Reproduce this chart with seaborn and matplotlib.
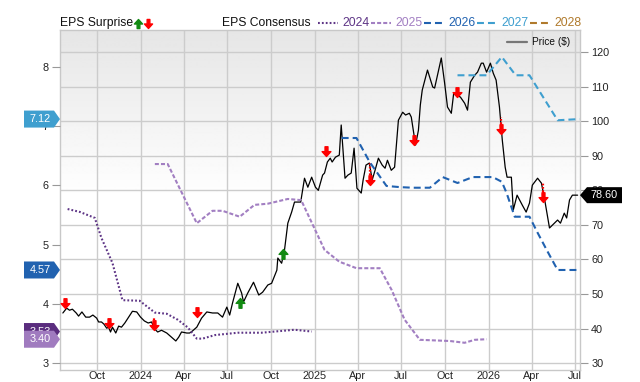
import numpy as np
import pandas as pd
import matplotlib
matplotlib.use("Agg")
from matplotlib import pyplot as plt
from matplotlib.lines import Line2D
from matplotlib.patches import Polygon
from matplotlib.path import Path
from matplotlib.transforms import IdentityTransform
import seaborn as sns

# ---- data ----
price_dates = [
    "2023-07-22", "2023-07-30", "2023-08-05", "2023-08-11", "2023-08-19", "2023-08-24", "2023-08-31",
    "2023-09-08", "2023-09-16", "2023-09-23", "2023-10-01", "2023-10-05", "2023-10-11", "2023-10-16",
    "2023-10-22", "2023-10-26", "2023-10-30", "2023-11-03", "2023-11-10", "2023-11-16", "2023-11-22",
    "2023-11-29", "2023-12-07", "2023-12-15", "2023-12-24", "2024-01-01", "2024-01-09", "2024-01-17",
    "2024-01-24", "2024-01-31", "2024-02-06", "2024-02-14", "2024-02-25", "2024-03-06", "2024-03-15",
    "2024-03-21", "2024-03-27", "2024-04-07", "2024-04-13", "2024-04-19", "2024-04-28", "2024-05-08",
    "2024-05-19", "2024-05-31", "2024-06-11", "2024-06-21", "2024-06-30", "2024-07-06", "2024-07-12",
    "2024-07-23", "2024-07-31", "2024-08-04", "2024-08-13", "2024-08-25", "2024-09-05", "2024-09-13",
    "2024-09-24", "2024-10-02", "2024-10-13", "2024-10-15", "2024-10-23", "2024-10-29", "2024-11-05",
    "2024-11-13", "2024-11-19", "2024-12-02", "2024-12-10", "2024-12-17", "2024-12-25", "2025-01-02",
    "2025-01-08", "2025-01-17", "2025-01-21", "2025-01-27", "2025-02-02", "2025-02-06", "2025-02-13",
    "2025-02-21", "2025-02-25", "2025-03-05", "2025-03-11", "2025-03-18", "2025-03-24", "2025-03-30",
    "2025-04-08", "2025-04-12", "2025-04-18", "2025-04-25", "2025-05-01", "2025-05-07", "2025-05-14",
    "2025-05-22", "2025-05-28", "2025-06-02", "2025-06-10", "2025-06-17", "2025-06-21", "2025-06-25",
    "2025-07-04", "2025-07-10", "2025-07-18", "2025-07-22", "2025-07-31", "2025-08-06", "2025-08-10",
    "2025-08-14", "2025-08-25", "2025-09-05", "2025-09-09", "2025-09-23", "2025-09-30", "2025-10-06",
    "2025-10-14", "2025-10-19", "2025-10-25", "2025-11-02", "2025-11-11", "2025-11-17", "2025-11-23",
    "2025-12-02", "2025-12-08", "2025-12-16", "2025-12-20", "2025-12-27", "2026-01-04", "2026-01-10",
    "2026-01-16", "2026-01-23", "2026-01-29", "2026-02-04", "2026-02-08", "2026-02-17", "2026-02-21",
    "2026-03-01", "2026-03-12", "2026-03-20", "2026-03-27", "2026-04-02", "2026-04-13", "2026-04-21",
    "2026-04-27", "2026-05-08", "2026-05-14", "2026-05-25", "2026-05-31", "2026-06-08", "2026-06-13",
    "2026-06-19", "2026-06-25", "2026-07-06",
]
price_values = [
    44.5, 45.9, 45.3, 45.6, 44.5, 43.6, 44.8,
    43.3, 43.3, 43.9, 43.0, 41.9, 41.9, 41.3,
    40.1, 40.4, 39.0, 40.4, 38.7, 40.7, 40.4,
    41.6, 43.3, 45.0, 44.8, 43.3, 42.2, 41.6,
    41.9, 39.8, 39.0, 39.5, 38.7, 37.5, 36.4,
    37.5, 39.0, 38.7, 38.7, 39.3, 40.4, 43.0,
    44.8, 44.5, 44.5, 43.3, 46.2, 43.9, 47.4,
    53.1, 50.3, 47.7, 50.3, 53.4, 49.7, 50.5,
    52.6, 53.1, 56.9, 60.4, 58.9, 62.7, 70.5,
    73.7, 76.6, 76.6, 83.5, 80.9, 83.8, 80.9,
    80.0, 84.4, 85.0, 88.2, 89.3, 88.2, 89.6,
    90.2, 98.9, 83.5, 84.4, 85.0, 92.2, 80.6,
    79.2, 83.0, 87.3, 87.9, 83.0, 85.8, 89.3,
    87.3, 86.4, 88.7, 85.8, 86.7, 93.7, 100.3,
    102.6, 101.8, 102.3, 101.2, 93.1, 97.4, 104.7,
    109.0, 114.8, 109.9, 109.6, 118.3, 111.0, 104.1,
    102.3, 108.1, 107.5, 107.0, 105.2, 103.2, 111.3,
    113.3, 114.2, 116.8, 116.8, 114.2, 116.8, 113.9,
    111.9, 104.1, 94.5, 86.7, 83.8, 83.8, 74.3,
    78.6, 75.7, 73.7, 76.3, 81.5, 83.5, 82.1,
    78.0, 69.1, 69.9, 71.4, 70.5, 73.4, 72.0,
    77.2, 78.6, 78.6,
]

eps_2024_dates = ["2023-08-01", "2023-08-27", "2023-09-27", "2023-10-11", "2023-11-03", "2023-11-24",
                  "2023-12-30", "2024-01-31", "2024-02-25", "2024-03-19", "2024-04-09", "2024-04-28",
                  "2024-05-10", "2024-06-05", "2024-07-23", "2024-09-11", "2024-11-19", "2024-12-25"]
eps_2024 = [5.60, 5.55, 5.45, 5.11, 4.69, 4.06, 4.05, 3.85, 3.83, 3.73, 3.60, 3.41,
            3.41, 3.47, 3.51, 3.51, 3.56, 3.53]

eps_2025_dates = ["2024-01-31", "2024-02-27", "2024-04-28", "2024-05-31", "2024-06-21", "2024-07-27",
                  "2024-08-27", "2024-09-24", "2024-11-05", "2024-12-03", "2025-01-21", "2025-02-21",
                  "2025-03-29", "2025-05-17", "2025-06-11", "2025-07-08", "2025-08-09", "2025-10-11",
                  "2025-11-11", "2025-12-02", "2025-12-27"]
eps_2025 = [6.36, 6.36, 5.36, 5.57, 5.57, 5.47, 5.67, 5.69, 5.77, 5.75, 4.91, 4.71,
            4.60, 4.60, 4.23, 3.73, 3.39, 3.37, 3.34, 3.39, 3.40]

eps_2026_dates = ["2025-02-26", "2025-03-29", "2025-04-26", "2025-05-31", "2025-06-28", "2025-07-25",
                  "2025-08-30", "2025-09-26", "2025-10-27", "2025-11-28", "2026-01-09", "2026-01-28",
                  "2026-02-07", "2026-02-24", "2026-03-27", "2026-04-13", "2026-05-02", "2026-05-25",
                  "2026-07-10"]
eps_2026 = [6.80, 6.80, 6.39, 5.99, 5.97, 5.96, 5.96, 6.14, 6.04, 6.14, 6.14, 6.06,
            5.87, 5.47, 5.47, 5.20, 4.91, 4.57, 4.57]

eps_2027_dates = ["2025-10-27", "2025-12-27", "2026-01-28", "2026-02-26", "2026-03-27", "2026-05-25",
                  "2026-07-10"]
eps_2027 = [7.86, 7.86, 8.17, 7.86, 7.86, 7.10, 7.12]

surprise_dates = ["2023-07-26", "2023-10-26", "2024-01-29", "2024-04-28", "2024-07-27", "2024-10-25",
                  "2025-01-25", "2025-04-26", "2025-07-27", "2025-10-25", "2026-01-26", "2026-04-24"]
surprise_tip = [45.9, 40.1, 39.5, 43.3, 48.8, 63.0, 89.9, 81.5, 93.1, 107.0, 96.3, 76.6]
surprise_dir = ["down", "down", "down", "down", "up", "up", "down", "down", "down", "down", "down", "down"]
surprise_from = [np.nan, np.nan, 43.0, np.nan, np.nan, np.nan, np.nan, 87.9, np.nan, np.nan, 101.2, 82.1]

years = ["2024", "2025", "2026", "2027", "2028"]
year_colors = ["#5e3586", "#a27fc2", "#2162b0", "#3f9fcf", "#b07a2c"]
year_dashes = [(1.3, 1.5), (2.9, 1.5), (5.0, 2.9), (5.0, 2.9), (5.0, 2.9)]

tick_dates = ["2023-10-01", "2024-01-01", "2024-04-01", "2024-07-01", "2024-10-01", "2025-01-01",
              "2025-04-01", "2025-07-01", "2025-10-01", "2026-01-01", "2026-04-01", "2026-07-01"]
tick_labels = ["Oct", "2024", "Apr", "Jul", "Oct", "2025", "Apr", "Jul", "Oct", "2026", "Apr", "Jul"]

# ---- style ----
sns.set_theme(style="white")
plt.rcParams["font.family"] = ["Liberation Sans", "DejaVu Sans"]
plt.rcParams["lines.scale_dashes"] = False

W, H = 640, 382
fig = plt.figure(figsize=(W / 100, H / 100), dpi=100)
rect = [60 / W, 12 / H, 520 / W, 340 / H]

# grey-to-white background
bg = fig.add_axes(rect, zorder=0)
frac = np.linspace(1, 0, 340)
shade = np.where(frac > 0.5, 1 - (frac - 0.5) * 0.2, 1.0)
bg.imshow(shade[:, None], cmap="gray", vmin=0, vmax=1, aspect="auto", extent=[0, 1, 0, 1])
bg.axis("off")

ax = fig.add_axes(rect, zorder=1)      # price axis (right)
ax.patch.set_visible(False)
ax2 = ax.twinx()                        # eps axis (left)
ax2.set_zorder(2)
ax2.patch.set_visible(False)

# down / up arrow markers with the tip at the data point
down_arrow = Path([(0, 0), (-0.45, 0.5), (-0.15, 0.5), (-0.15, 1.0), (0.15, 1.0), (0.15, 0.5),
                   (0.45, 0.5), (0, 0)], closed=True)
up_arrow = Path([(0, 0), (-0.45, -0.5), (-0.15, -0.5), (-0.15, -1.0), (0.15, -1.0), (0.15, -0.5),
                 (0.45, -0.5), (0, 0)], closed=True)

# price
sns.lineplot(x=pd.to_datetime(price_dates), y=price_values, ax=ax, color="black", lw=0.9, zorder=3)

# consensus lines
eps_series = [(eps_2024_dates, eps_2024), (eps_2025_dates, eps_2025),
              (eps_2026_dates, eps_2026), (eps_2027_dates, eps_2027)]
for (d, v), c, dsh in zip(eps_series, year_colors, year_dashes):
    sns.lineplot(x=pd.to_datetime(d), y=v, ax=ax2, color=c, lw=1.5)
    ax2.lines[-1].set_dashes(dsh)

# surprise arrows
s_dates = pd.to_datetime(surprise_dates)
for d, tip, top, kind in zip(s_dates, surprise_tip, surprise_from, surprise_dir):
    if not np.isnan(top):
        ax.vlines(d, tip, top, colors="#ff0000", linestyles=(0, (1.2, 1.2)), lw=1.6, zorder=4)
    if kind == "down":
        ax.plot([d], [tip], marker=down_arrow, ms=14, color="#ff0000", mec="#ff0000", ls="none", zorder=5)
    else:
        ax.plot([d], [tip], marker=up_arrow, ms=14, color="#128a12", mec="#128a12", ls="none", zorder=5)

# axes limits / ticks
ax.set_xlim(pd.Timestamp("2023-07-16"), pd.Timestamp("2026-07-11"))
ax.set_ylim(28.0, 126.4)
ax2.set_ylim(2.88, 8.625)
ax.set_yticks(range(30, 130, 10))
ax2.set_yticks(range(3, 9))
ax.set_xticks(pd.to_datetime(tick_dates))
ax.set_xticklabels(tick_labels)
ax.set_xlabel("")
ax.set_ylabel("")
ax2.set_ylabel("")

ax.yaxis.tick_right()
ax2.yaxis.tick_left()
ax.grid(True, color="#cccccc", lw=1)
ax.set_axisbelow(True)
ax.tick_params(axis="y", right=True, left=False, length=6, width=0.8, color="#999999",
               labelsize=7.8, labelcolor="#222222", pad=2)
ax.tick_params(axis="x", length=0, labelsize=7.8, labelcolor="#222222", pad=0.8)
ax2.tick_params(axis="y", left=True, right=False, length=6, width=0.8, color="#999999",
                labelsize=7.8, labelcolor="#222222", pad=2)
for s in ax.spines.values():
    s.set_color("#c8c8c8")
    s.set_linewidth(1)
for s in ax2.spines.values():
    s.set_visible(False)

# ---- value tags ----
ID = IdentityTransform()
tag_list = [(eps_2027[-1], year_colors[3]), (eps_2026[-1], year_colors[2]),
            (eps_2024[-1], "#5a2d7e"), (eps_2025[-1], "#a07bbf")]
for i, (val, col) in enumerate(tag_list):
    yc = ax2.transData.transform((0, val))[1]
    fig.add_artist(Polygon([(24, yc - 8.5), (54, yc - 8.5), (60, yc), (54, yc + 8.5), (24, yc + 8.5)],
                           closed=True, fc=col, ec="none", transform=ID, zorder=10 + 2 * i))
    fig.text(40, yc, f"{val:.2f}", transform=ID, color="white", ha="center", va="center",
             fontsize=7.8, zorder=11 + 2 * i)

yc = ax.transData.transform((0, price_values[-1]))[1]
fig.add_artist(Polygon([(580, yc), (587, yc + 8), (622, yc + 8), (622, yc - 8), (587, yc - 8)],
                       closed=True, fc="black", ec="none", transform=ID, zorder=20))
fig.text(604, yc, f"{price_values[-1]:.2f}", transform=ID, color="white", ha="center", va="center",
         fontsize=7.8, zorder=21)

# ---- top legend ----
ly = H - 23
fig.text(60, ly, "EPS Surprise", transform=ID, va="center", fontsize=8.7, color="#111111")
fig.add_artist(Line2D([138], [ly + 4.5], marker=up_arrow, ms=13, color="#128a12", ls="none", transform=ID))
fig.add_artist(Line2D([148], [ly - 4.5], marker=down_arrow, ms=13, color="#ff0000", ls="none", transform=ID))
fig.text(222, ly, "EPS Consensus", transform=ID, va="center", fontsize=8.7, color="#111111")
x0 = 318
for yr, c, dsh in zip(years, year_colors, year_dashes):
    ln = Line2D([x0, x0 + 20], [ly, ly], color=c, lw=1.5, transform=ID)
    ln.set_dashes(dsh)
    fig.add_artist(ln)
    fig.text(x0 + 24, ly, yr, transform=ID, va="center", fontsize=8.7, color=c)
    x0 += 53

fig.add_artist(Line2D([507, 527], [H - 42, H - 42], color="#777777", lw=1.6, transform=ID, zorder=5))
fig.text(532, H - 42, "Price ($)", transform=ID, va="center", fontsize=7.3, color="#111111")

fig.savefig("out.png", dpi=100)
